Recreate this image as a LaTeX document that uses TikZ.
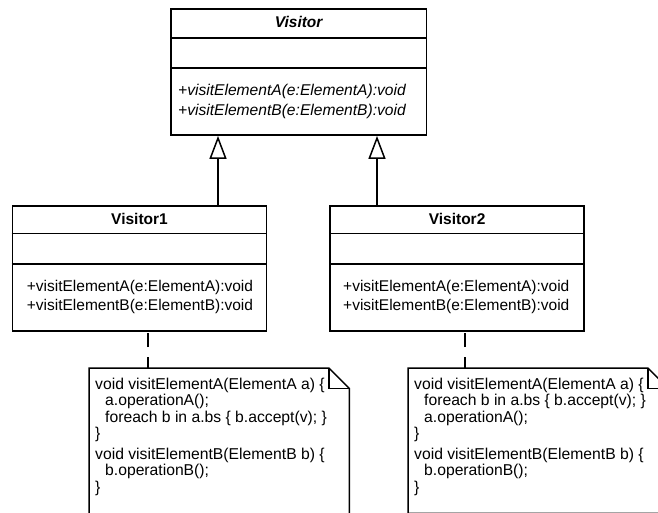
\documentclass[tikz,border=0pt]{standalone}
\usepackage{fontspec}
\setmainfont{Liberation Sans}
\usetikzlibrary{arrows.meta}
\begin{document}
\begin{tikzpicture}[x=1pt, y=-1pt,
  classframe/.style={draw=black, line width=1.6pt, inner sep=0pt, anchor=north west,
    minimum width=254pt, minimum height=125pt},
  compartment/.style={line width=1.4pt},
  classname/.style={font=\fontsize{15.5}{18.8}\selectfont\bfseries, inner sep=0pt},
  members/.style={font=\fontsize{15.5}{18.8}\selectfont, align=left, inner sep=0pt, anchor=west},
  inherit/.style={line width=1.5pt, -{Triangle[open, fill=white, length=23pt, width=17pt]}},
  notebody/.style={inner sep=0pt, anchor=north west, minimum width=260pt},
  noteline/.style={line width=1.5pt, line join=miter},
  notetext/.style={font=\fontsize{15.7}{16.5}\selectfont, align=left, inner sep=0pt, anchor=north west},
  notelink/.style={line width=1.5pt, dash pattern=on 11pt off 10pt on 14pt off 10pt}
]
\useasboundingbox (0,0) rectangle (658,513);
\fill[white] (0,0) rectangle (658,513);
\begin{scope}
\clip (0,0) rectangle (658,513);

% abstract visitor
\node[classframe, minimum width=255.7pt, minimum height=126.3pt] (v) at (170,8) {};
\draw[compartment] ([yshift=-30pt]v.north west) -- ([yshift=-30pt]v.north east);
\draw[compartment] ([yshift=-60pt]v.north west) -- ([yshift=-60pt]v.north east);
\node[classname, font=\fontsize{15.5}{18.8}\selectfont\bfseries\itshape] (vt) at ([yshift=-14pt]v.north) {Visitor};
\node[members, font=\fontsize{15.6}{19.3}\selectfont\itshape] (vm) at (178,101.5)
  {+visitElementA(e:ElementA):void\\+visitElementB(e:ElementB):void};

% concrete visitors
\node[classframe] (v1) at (11.7,205) {};
\draw[compartment] ([yshift=-28.5pt]v1.north west) -- ([yshift=-28.5pt]v1.north east);
\draw[compartment] ([yshift=-59pt]v1.north west) -- ([yshift=-59pt]v1.north east);
\node[classname] (v1t) at ([yshift=-13.5pt]v1.north) {Visitor1};
\node[members] (v1m) at (26.7,297.2)
  {+visitElementA(e:ElementA):void\\+visitElementB(e:ElementB):void};

\node[classframe] (v2) at (329.3,205) {};
\draw[compartment] ([yshift=-28.5pt]v2.north west) -- ([yshift=-28.5pt]v2.north east);
\draw[compartment] ([yshift=-59pt]v2.north west) -- ([yshift=-59pt]v2.north east);
\node[classname] (v2t) at ([yshift=-13.5pt]v2.north) {Visitor2};
\node[members] (v2m) at (343,297.2)
  {+visitElementA(e:ElementA):void\\+visitElementB(e:ElementB):void};

% generalisation arrows
\coordinate (g1) at (218,0);
\coordinate (g2) at (377,0);
\draw[inherit] (v1.north -| g1) -- (v.south -| g1);
\draw[inherit] (v2.north -| g2) -- (v.south -| g2);

% notes with the method bodies
\node[notebody, minimum height=147pt] (n1) at (89,368) {};
\draw[noteline] (n1.south west) -- (n1.north west) -- ([xshift=-20.5pt]n1.north east)
  -- ([yshift=-20.5pt]n1.north east) -- (n1.south east) -- cycle;
\draw[noteline] ([xshift=-20.5pt]n1.north east) -- ([xshift=-20.5pt,yshift=-20.5pt]n1.north east)
  -- ([yshift=-20.5pt]n1.north east);
\node[notetext] (n1t) at (95,377.5)
  {void visitElementA(ElementA a) \{\\
   \hspace*{10pt}a.operationA();\\
   \hspace*{10pt}foreach b in a.bs \{ b.accept(v); \}\\
   \}\\[4pt]
   void visitElementB(ElementB b) \{\\
   \hspace*{10pt}b.operationB();\\
   \}};

\node[notebody, minimum height=145pt] (n2) at (408,368) {};
\draw[noteline] (n2.south west) -- (n2.north west) -- ([xshift=-20.5pt]n2.north east)
  -- ([yshift=-20.5pt]n2.north east) -- (n2.south east) -- cycle;
\draw[noteline] ([xshift=-20.5pt]n2.north east) -- ([xshift=-20.5pt,yshift=-20.5pt]n2.north east)
  -- ([yshift=-20.5pt]n2.north east);
\node[notetext] (n2t) at (414,377.5)
  {void visitElementA(ElementA a) \{\\
   \hspace*{10pt}foreach b in a.bs \{ b.accept(v); \}\\
   \hspace*{10pt}a.operationA();\\
   \}\\[4pt]
   void visitElementB(ElementB b) \{\\
   \hspace*{10pt}b.operationB();\\
   \}};

% note anchors
\coordinate (d1) at (148,0);
\coordinate (d2) at (465,0);
\draw[notelink] (n1.north -| d1) -- (v1.south -| d1);
\draw[notelink] (n2.north -| d2) -- (v2.south -| d2);
\end{scope}
\end{tikzpicture}
\end{document}
